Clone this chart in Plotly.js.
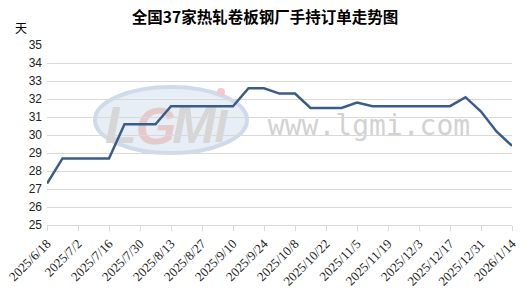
<!DOCTYPE html>
<html><head><meta charset="utf-8">
<script src="https://cdn.plot.ly/plotly-3.0.1.min.js"></script>
<style>html,body{margin:0;padding:0;background:#fff}#c{width:530px;height:304px}</style>
</head><body><div id="c"></div>
<script>
const dates = ['2025-06-18','2025-06-25','2025-07-02','2025-07-09','2025-07-16','2025-07-23','2025-07-30','2025-08-06','2025-08-13','2025-08-20','2025-08-27','2025-09-03','2025-09-10','2025-09-17','2025-09-24','2025-10-01','2025-10-08','2025-10-15','2025-10-22','2025-10-29','2025-11-05','2025-11-12','2025-11-19','2025-11-26','2025-12-03','2025-12-10','2025-12-17','2025-12-24','2025-12-31','2026-01-07','2026-01-14'];
const orderDays = [27.3,28.7,28.7,28.7,28.7,30.6,30.6,30.6,31.6,31.6,31.6,31.6,31.6,32.6,32.6,32.3,32.3,31.5,31.5,31.5,31.8,31.6,31.6,31.6,31.6,31.6,31.6,32.1,31.3,30.2,29.4];
const tickDates = ['2025-06-18','2025-07-02','2025-07-16','2025-07-30','2025-08-13','2025-08-27','2025-09-10','2025-09-24','2025-10-08','2025-10-22','2025-11-05','2025-11-19','2025-12-03','2025-12-17','2025-12-31','2026-01-14'];
const tickLabels = ['2025/6/18','2025/7/2','2025/7/16','2025/7/30','2025/8/13','2025/8/27','2025/9/10','2025/9/24','2025/10/8','2025/10/22','2025/11/5','2025/11/19','2025/12/3','2025/12/17','2025/12/31','2026/1/14'];
const titleText = '全国37家热轧卷板钢厂手持订单走势图';
const unitText = '天';

const L=47, R=18, T=45, B=79, W=530, H=304;
const pw = W-L-R, ph = H-T-B;
const px = x => (x-L)/pw;
const py = y => (H-B-y)/ph;

function letter(t, cx, cy, w, h, size, color, family, weight, style) {
  return {type:'rect', xref:'paper', yref:'paper', layer:'below',
    x0:px(cx-w/2), x1:px(cx+w/2), y0:py(cy+h/2), y1:py(cy-h/2),
    line:{width:0}, fillcolor:'rgba(0,0,0,0)',
    label:{text:t, textposition:'middle center', font:{size:size, color:color, family:family, weight:weight, style:style||'normal'}}};
}

const shapes = [
  {type:'circle', xref:'paper', yref:'paper', layer:'below',
   x0:px(95), x1:px(247), y0:py(153), y1:py(87),
   fillcolor:'#e8eef6', line:{color:'#cfdbea', width:4}},
  letter('L',121,120,30,50,52,'#d6d6d6','Liberation Sans','bold','italic'),
  letter('G',156,121,36,50,52,'#e6c9cb','Liberation Sans','bold','italic'),
  letter('M',194,120,40,50,52,'#d6d6d6','Liberation Sans','bold','italic'),
  letter('I',221,122,14,44,46,'#d6d6d6','Liberation Sans','bold','italic'),
  {type:'circle', xref:'paper', yref:'paper', layer:'below',
   x0:px(217), x1:px(225), y0:py(96), y1:py(88), fillcolor:'#f3c9cc', line:{width:0}},
  letter('www.lgmi.com',369,123,190,30,28,'#d2d2d2','DejaVu Sans Mono','normal')
];

const data = [{
  x: dates, y: orderDays, type:'scatter', mode:'lines',
  line:{color:'#3b5b8a', width:2.5}, hoverinfo:'skip'
}];

const layout = {
  width:W, height:H, margin:{l:L, r:R, t:T, b:B},
  paper_bgcolor:'#fff', plot_bgcolor:'rgba(0,0,0,0)',
  showlegend:false,
  title:{text:titleText, x:0.5, xanchor:'center', y:1-18/H, yanchor:'middle', yref:'container',
    font:{family:'Noto Sans CJK SC', size:15.5, color:'#000', weight:'bold'}},
  xaxis:{type:'date', range:[dates[0], dates[dates.length-1]], tickvals:tickDates, ticktext:tickLabels,
    tickangle:-45, showgrid:false, showline:true, linecolor:'#d9d9d9', linewidth:1,
    ticks:'outside', ticklen:5, tickcolor:'#d9d9d9', zeroline:false,
    tickfont:{family:'Liberation Serif', size:13, color:'#222'}},
  yaxis:{range:[25,35], dtick:1, tick0:25, showgrid:true, gridcolor:'#d9d9d9', gridwidth:1,
    zeroline:false, showline:false, ticks:'', ticklabelstandoff:4,
    tickfont:{family:'Liberation Sans', size:12, color:'#222'}},
  shapes: shapes,
  annotations:[{text:unitText, xref:'paper', yref:'paper', x:px(21), y:py(28), xanchor:'center', yanchor:'middle',
    showarrow:false, font:{family:'Noto Sans CJK SC', size:12, color:'#000'}}]
};
Plotly.newPlot('c', data, layout, {staticPlot:true, displayModeBar:false});
</script></body></html>
